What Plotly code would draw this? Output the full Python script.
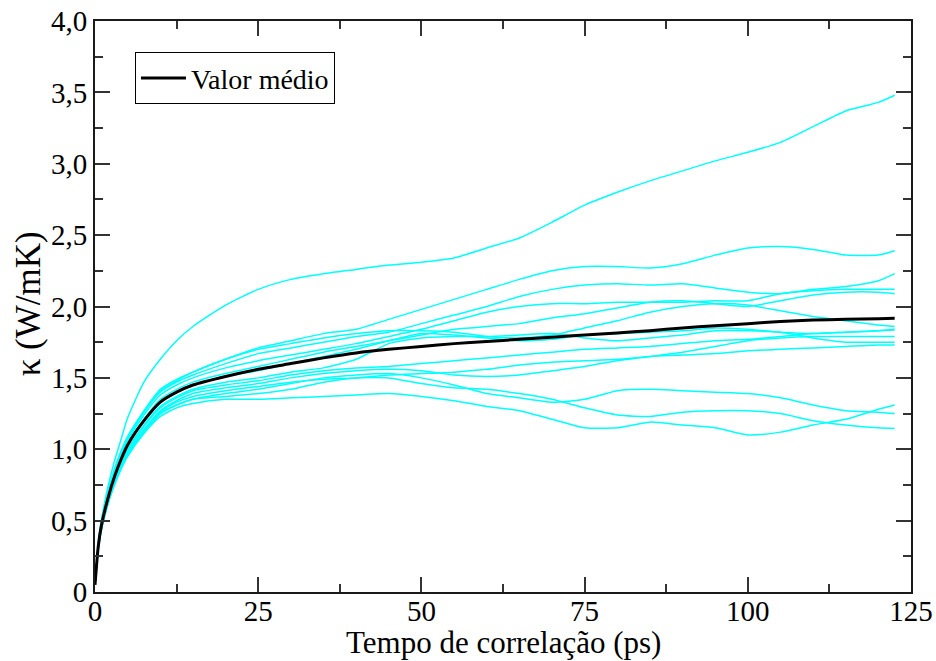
import plotly.graph_objects as go

# correlation time (ps)
t = [0, 0.5, 1, 2, 3, 4, 5, 7.5, 10, 12.5, 15, 20, 25, 30, 35, 40, 45, 50, 55, 60,
     65, 70, 75, 80, 85, 90, 95, 100, 105, 110, 115, 120, 122.5]

# mean value (black curve)
mean_k = [0.05, 0.32, 0.47, 0.66, 0.81, 0.93, 1.03, 1.20, 1.33, 1.40, 1.45, 1.51, 1.56, 1.60, 1.64, 1.675, 1.70,
          1.72, 1.74, 1.755, 1.77, 1.785, 1.80, 1.815, 1.83, 1.85, 1.865, 1.88, 1.895, 1.905, 1.91, 1.915, 1.917]

# individual runs (cyan curves)
run_a = [0.05, 0.34, 0.51, 0.74, 0.92, 1.07, 1.22, 1.47, 1.63, 1.76, 1.86, 2.01, 2.12, 2.19, 2.23, 2.26, 2.29,
         2.31, 2.34, 2.41, 2.48, 2.59, 2.71, 2.80, 2.88, 2.95, 3.02, 3.08, 3.15, 3.26, 3.37, 3.43, 3.48]
run_b = [0.05, 0.33, 0.49, 0.70, 0.86, 0.99, 1.09, 1.27, 1.42, 1.49, 1.54, 1.63, 1.71, 1.76, 1.81, 1.84, 1.91,
         1.98, 2.05, 2.12, 2.19, 2.25, 2.28, 2.28, 2.27, 2.30, 2.36, 2.41, 2.42, 2.40, 2.36, 2.36, 2.39]
run_c = [0.05, 0.33, 0.49, 0.70, 0.86, 0.98, 1.08, 1.26, 1.40, 1.47, 1.52, 1.60, 1.67, 1.71, 1.75, 1.79, 1.82,
         1.88, 1.94, 2.00, 2.07, 2.12, 2.15, 2.16, 2.15, 2.16, 2.13, 2.10, 2.09, 2.12, 2.14, 2.18, 2.23]
run_d = [0.05, 0.32, 0.48, 0.68, 0.84, 0.96, 1.06, 1.24, 1.38, 1.45, 1.50, 1.57, 1.62, 1.66, 1.70, 1.74, 1.79,
         1.84, 1.90, 1.96, 2.00, 2.02, 2.02, 2.03, 2.03, 2.03, 2.04, 2.04, 2.09, 2.11, 2.12, 2.12, 2.12]
run_e = [0.05, 0.32, 0.47, 0.67, 0.82, 0.94, 1.04, 1.21, 1.35, 1.42, 1.47, 1.53, 1.58, 1.63, 1.68, 1.72, 1.76,
         1.80, 1.84, 1.86, 1.88, 1.92, 1.95, 1.99, 2.03, 2.04, 2.02, 2.00, 2.04, 2.08, 2.10, 2.10, 2.09]
run_f = [0.05, 0.33, 0.49, 0.70, 0.86, 0.98, 1.08, 1.26, 1.41, 1.48, 1.54, 1.63, 1.70, 1.74, 1.78, 1.81, 1.83,
         1.83, 1.82, 1.79, 1.78, 1.80, 1.85, 1.90, 1.96, 2.00, 2.02, 2.01, 1.97, 1.93, 1.90, 1.87, 1.86]
run_g = [0.05, 0.32, 0.47, 0.66, 0.81, 0.93, 1.03, 1.20, 1.33, 1.40, 1.45, 1.51, 1.55, 1.60, 1.65, 1.70, 1.76,
         1.81, 1.80, 1.78, 1.76, 1.77, 1.80, 1.81, 1.82, 1.83, 1.85, 1.84, 1.82, 1.81, 1.82, 1.83, 1.84]
run_h = [0.05, 0.31, 0.46, 0.65, 0.79, 0.91, 1.00, 1.17, 1.30, 1.37, 1.42, 1.47, 1.50, 1.54, 1.57, 1.63, 1.74,
         1.78, 1.79, 1.79, 1.80, 1.81, 1.78, 1.76, 1.78, 1.80, 1.83, 1.83, 1.82, 1.78, 1.75, 1.75, 1.75]
run_i = [0.05, 0.31, 0.46, 0.64, 0.79, 0.90, 0.99, 1.16, 1.29, 1.36, 1.41, 1.45, 1.48, 1.52, 1.55, 1.57, 1.58,
         1.60, 1.62, 1.64, 1.66, 1.68, 1.70, 1.71, 1.72, 1.74, 1.76, 1.77, 1.79, 1.81, 1.82, 1.83, 1.835]
run_j = [0.05, 0.31, 0.45, 0.64, 0.78, 0.89, 0.98, 1.14, 1.27, 1.34, 1.39, 1.43, 1.46, 1.50, 1.53, 1.55, 1.56,
         1.55, 1.52, 1.51, 1.52, 1.55, 1.58, 1.62, 1.65, 1.68, 1.72, 1.76, 1.78, 1.79, 1.79, 1.79, 1.79]
run_k = [0.05, 0.30, 0.45, 0.63, 0.77, 0.88, 0.97, 1.13, 1.26, 1.33, 1.37, 1.41, 1.44, 1.47, 1.49, 1.50, 1.52,
         1.53, 1.54, 1.56, 1.59, 1.61, 1.62, 1.63, 1.65, 1.66, 1.67, 1.69, 1.70, 1.71, 1.72, 1.73, 1.73]
run_l = [0.05, 0.30, 0.44, 0.62, 0.76, 0.87, 0.96, 1.12, 1.25, 1.31, 1.35, 1.39, 1.42, 1.46, 1.50, 1.52, 1.53,
         1.50, 1.45, 1.39, 1.36, 1.33, 1.35, 1.41, 1.42, 1.41, 1.40, 1.39, 1.36, 1.31, 1.27, 1.26, 1.25]
run_m = [0.05, 0.30, 0.44, 0.62, 0.75, 0.86, 0.95, 1.11, 1.23, 1.29, 1.32, 1.35, 1.35, 1.36, 1.37, 1.38, 1.39,
         1.37, 1.34, 1.30, 1.27, 1.21, 1.15, 1.15, 1.19, 1.17, 1.15, 1.10, 1.12, 1.17, 1.21, 1.28, 1.31]
run_n = [0.05, 0.30, 0.45, 0.63, 0.77, 0.88, 0.97, 1.12, 1.25, 1.31, 1.35, 1.37, 1.39, 1.42, 1.47, 1.50, 1.50,
         1.46, 1.43, 1.42, 1.39, 1.35, 1.29, 1.24, 1.23, 1.26, 1.27, 1.27, 1.25, 1.20, 1.17, 1.15, 1.145]

runs = [run_a, run_b, run_c, run_d, run_e, run_f, run_g, run_h, run_i, run_j, run_k, run_l, run_m, run_n]

x_ticks = [0, 25, 50, 75, 100, 125]
y_ticks = [0, 0.5, 1.0, 1.5, 2.0, 2.5, 3.0, 3.5, 4.0]
y_tick_text = ["0", "0,5", "1,0", "1,5", "2,0", "2,5", "3,0", "3,5", "4,0"]

x_title = "Tempo de correlação (ps)"
y_title = "κ (W/mK)"

fig = go.Figure()
for r in runs:
    fig.add_trace(go.Scatter(x=t, y=r, mode="lines", showlegend=False,
                             line=dict(color="#00FFFF", width=1.5, shape="spline", smoothing=0.6),
                             hoverinfo="skip"))
fig.add_trace(go.Scatter(x=t, y=mean_k, mode="lines", name="Valor médio",
                         line=dict(color="black", width=3, shape="spline", smoothing=0.6)))

axis_common = dict(
    showline=True, linecolor="#1a1a1a", linewidth=2, mirror="allticks",
    ticks="inside", ticklen=15, tickwidth=2, tickcolor="#333333",
    showgrid=False, zeroline=False, automargin=False,
    tickfont=dict(family="Liberation Serif", size=29, color="black"),
)

fig.update_xaxes(range=[0, 125], tickvals=x_ticks, ticklabelstandoff=-8,
                 minor=dict(dtick=12.5, ticks="inside", ticklen=8, tickwidth=2, tickcolor="#333333"),
                 **axis_common)
fig.update_yaxes(range=[0, 4], tickvals=y_ticks, ticktext=y_tick_text,
                 minor=dict(dtick=0.25, ticks="inside", ticklen=8, tickwidth=2, tickcolor="#333333"),
                 **axis_common)

fig.add_annotation(text=x_title, xref="paper", yref="paper", x=0.5, y=-0.089,
                   xanchor="center", yanchor="middle", showarrow=False,
                   font=dict(family="Liberation Serif", size=31, color="black"))
fig.add_annotation(text=y_title, xref="paper", yref="paper", x=-0.082, y=0.504,
                   xanchor="center", yanchor="middle", showarrow=False, textangle=-90,
                   font=dict(family="Liberation Serif", size=35, color="black"))

fig.update_layout(
    width=936, height=661,
    margin=dict(l=95, r=25, t=21, b=69),
    paper_bgcolor="white", plot_bgcolor="white",
    separators=", ",
    legend=dict(x=0.049, y=0.945, xanchor="left", yanchor="top",
                bgcolor="white", bordercolor="black", borderwidth=1, itemwidth=45,
                font=dict(family="Liberation Serif", size=28, color="black")),
)

fig.write_html("out.html")
